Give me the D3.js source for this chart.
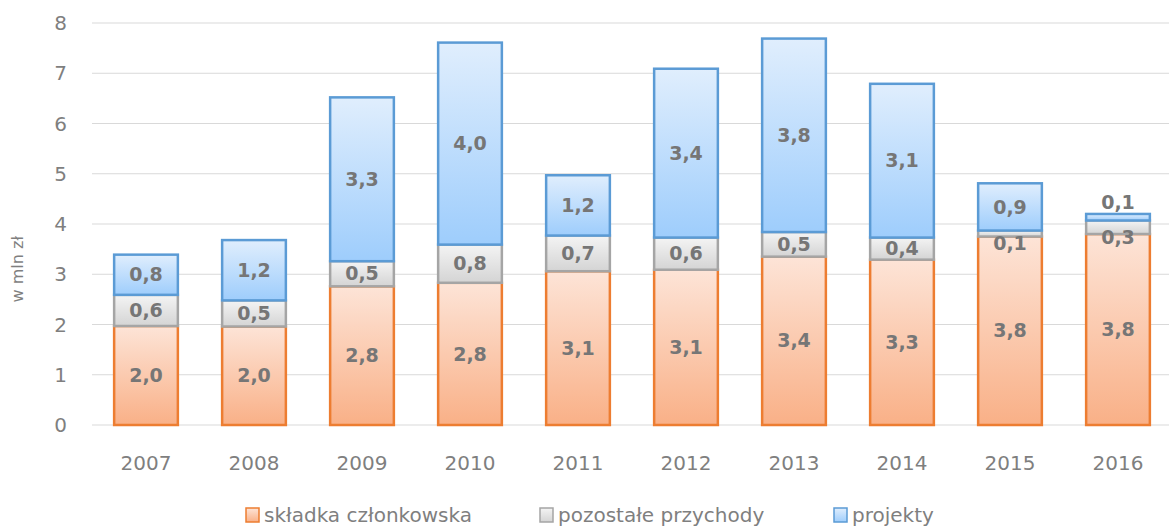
<!DOCTYPE html>
<html>
<head>
<meta charset="utf-8">
<script src="https://cdn.jsdelivr.net/npm/d3@7"></script>
<style>
  body { margin: 0; background: #fff; }
  text { font-family: "DejaVu Sans", sans-serif; }
</style>
</head>
<body>
<div id="plot"></div>
<script>
// chart data
const years = ["2007", "2008", "2009", "2010", "2011", "2012", "2013", "2014", "2015", "2016"];
const skladka = [1.97, 1.96, 2.76, 2.83, 3.06, 3.09, 3.35, 3.29, 3.75, 3.80];
const pozostale = [0.62, 0.52, 0.50, 0.76, 0.71, 0.64, 0.49, 0.44, 0.12, 0.27];
const projekty = [0.80, 1.20, 3.26, 4.02, 1.20, 3.36, 3.85, 3.06, 0.94, 0.13];
const seriesNames = ["składka członkowska", "pozostałe przychody", "projekty"];
const yTicks = [0, 1, 2, 3, 4, 5, 6, 7, 8];

const width = 1169, height = 528;
const margin = {top: 23, right: 0, bottom: 103, left: 92};

const svg = d3.select("#plot")
  .append("svg")
    .attr("width", width)
    .attr("height", height);

// gradients for each series
const styles = [
  {top: "#fde4d7", bottom: "#f9b087", stroke: "#ed7d31"},
  {top: "#f4f4f4", bottom: "#d4d4d4", stroke: "#a5a5a5"},
  {top: "#e0eefd", bottom: "#9ecdfc", stroke: "#5b9bd5"}
];
const defs = svg.append("defs");
styles.forEach((s, i) => {
  const g = defs.append("linearGradient")
    .attr("id", "grad" + i)
    .attr("x1", 0).attr("y1", 0).attr("x2", 0).attr("y2", 1);
  g.append("stop").attr("offset", "0%").attr("stop-color", s.top);
  g.append("stop").attr("offset", "100%").attr("stop-color", s.bottom);
});

const x = d3.scaleBand()
  .domain(years)
  .range([margin.left, margin.left + 108 * years.length])
  .paddingInner(0.41)
  .paddingOuter(0.205);

const y = d3.scaleLinear()
  .domain([0, 8])
  .range([height - margin.bottom, margin.top]);

// gridlines
svg.append("g")
  .selectAll("line")
  .data(yTicks)
  .join("line")
    .attr("x1", margin.left)
    .attr("x2", width)
    .attr("y1", d => y(d))
    .attr("y2", d => y(d))
    .attr("stroke", "#d9d9d9")
    .attr("stroke-width", 1);

// y tick labels
svg.append("g")
  .selectAll("text")
  .data(yTicks)
  .join("text")
    .attr("x", 67)
    .attr("y", d => y(d))
    .attr("dy", "0.35em")
    .attr("text-anchor", "end")
    .attr("fill", "#7f7f7f")
    .style("font-size", "20px")
    .text(d => d);

// y axis title
svg.append("text")
  .attr("transform", `translate(23, ${y(3.1)}) rotate(-90)`)
  .attr("text-anchor", "middle")
  .attr("fill", "#7f7f7f")
  .style("font-size", "16px")
  .text("w mln zł");

// x tick labels
svg.append("g")
  .selectAll("text")
  .data(years)
  .join("text")
    .attr("x", d => x(d) + x.bandwidth() / 2)
    .attr("y", 470)
    .attr("text-anchor", "middle")
    .attr("fill", "#7f7f7f")
    .style("font-size", "20px")
    .text(d => d);

// stack the data
const rows = years.map((yr, i) => ({year: yr, s0: skladka[i], s1: pozostale[i], s2: projekty[i]}));
const stack = d3.stack().keys(["s0", "s1", "s2"]);
const stacked = stack(rows);

const layers = svg.append("g")
  .selectAll("g")
  .data(stacked)
  .join("g")
    .attr("fill", (d, i) => `url(#grad${i})`)
    .attr("stroke", (d, i) => styles[i].stroke);

layers.selectAll("rect")
  .data(d => d)
  .join("rect")
    .attr("x", d => x(d.data.year))
    .attr("width", x.bandwidth())
    .attr("y", d => y(d[1]))
    .attr("height", d => y(d[0]) - y(d[1]))
    .attr("stroke-width", 2.5);

// value labels
const fmt = v => v.toFixed(1).replace(".", ",");
stacked.forEach((layer, li) => {
  svg.append("g")
    .selectAll("text")
    .data(layer)
    .join("text")
      .attr("x", d => x(d.data.year) + x.bandwidth() / 2)
      .attr("y", d => {
        const h = y(d[0]) - y(d[1]);
        const mid = (y(d[0]) + y(d[1])) / 2;
        if (h < 15 && li === 2) return y(d[1]) - 12;
        if (h < 15) return mid + 10;
        return mid;
      })
      .attr("dy", "0.35em")
      .attr("text-anchor", "middle")
      .attr("fill", "#767676")
      .style("font-size", "19px")
      .style("font-weight", "bold")
      .text(d => fmt(d[1] - d[0]));
});

// legend
const legendX = [246, 540, 834];
const legend = svg.append("g")
  .selectAll("g")
  .data(seriesNames)
  .join("g")
    .attr("transform", (d, i) => `translate(${legendX[i]}, 515)`);

legend.append("rect")
  .attr("x", 0)
  .attr("y", -7)
  .attr("width", 13)
  .attr("height", 14)
  .attr("fill", (d, i) => `url(#grad${i})`)
  .attr("stroke", (d, i) => styles[i].stroke)
  .attr("stroke-width", 1.5);

legend.append("text")
  .attr("x", 18)
  .attr("y", 0)
  .attr("dy", "0.35em")
  .attr("fill", "#7f7f7f")
  .style("font-size", "20px")
  .text(d => d);
</script>
</body>
</html>
